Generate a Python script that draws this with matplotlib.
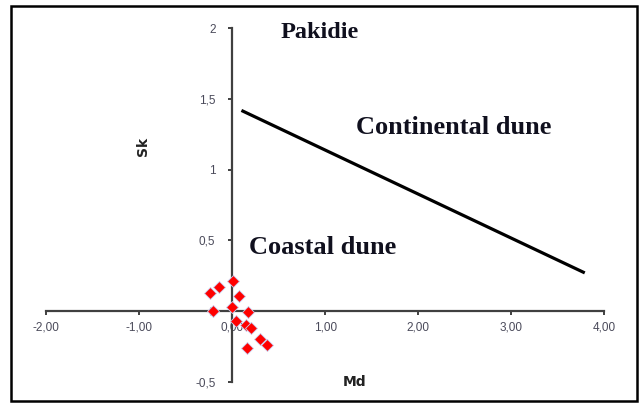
import matplotlib.pyplot as plt
from matplotlib.patches import Rectangle

# Md / Sk values of the samples
md = [-0.24, -0.14, 0.01, 0.07, 0.00, -0.21, 0.17, 0.04, 0.15, 0.20, 0.30, 0.38, 0.16]
sk = [0.13, 0.17, 0.21, 0.11, 0.03, 0.00, -0.01, -0.07, -0.10, -0.12, -0.20, -0.24, -0.26]

# boundary between coastal and continental dunes
line_md = [0.10, 3.79]
line_sk = [1.42, 0.27]

xticks = [-2, -1, 0, 1, 2, 3, 4]
xticklabels = ['-2,00', '-1,00', '0,00', '1,00', '2,00', '3,00', '4,00']
yticks = [-0.5, 0, 0.5, 1, 1.5, 2]
yticklabels = ['-0,5', '0', '0,5', '1', '1,5', '2']

fig = plt.figure(figsize=(6.42, 4.03), dpi=100)
ax = fig.add_axes([0.0717, 0.0529, 0.8696, 0.8764])
ax.set_xlim(-2, 4)
ax.set_ylim(-0.5, 2)

axcol = '#404040'
for s in ['top', 'right']:
    ax.spines[s].set_visible(False)
for s in ['left', 'bottom']:
    ax.spines[s].set_position(('data', 0))
    ax.spines[s].set_color(axcol)
    ax.spines[s].set_linewidth(1.6)

ax.set_xticks(xticks)
ax.set_xticklabels(xticklabels)
ax.set_yticks(yticks)
ax.set_yticklabels(yticklabels)
ax.tick_params(axis='x', direction='out', length=3, width=1.4, color=axcol,
               pad=4.5, labelsize=8.5, labelcolor='#4a4a5a')
ax.tick_params(axis='y', direction='out', length=3, width=1.4, color=axcol,
               pad=9, labelsize=8.5, labelcolor='#4a4a5a')
for lab in ax.get_xticklabels() + ax.get_yticklabels():
    lab.set_family('Liberation Sans')

ax.set_xlabel('Md', fontsize=10, fontweight='bold', color='#222222')
ax.set_ylabel('Sk', fontsize=10, fontweight='bold', color='#222222')
ax.xaxis.set_label_coords(0.553, 0.019)
ax.yaxis.set_label_coords(0.186, 0.665)

ax.plot(line_md, line_sk, color='black', lw=2.3, solid_capstyle='butt')
ax.plot(md, sk, linestyle='none', marker='D', markersize=6.5,
        markerfacecolor='#ff0000', markeredgecolor='#c8d0f0',
        markeredgewidth=0.6, clip_on=False, zorder=4)

serif = dict(family='Liberation Serif', fontweight='bold', color='#10101e',
             ha='center', va='center')
ax.text(0.945, 1.97, 'Pakidie', fontsize=17.5, **serif)
ax.text(2.38, 1.30, 'Continental dune', fontsize=19, **serif)
ax.text(0.975, 0.45, 'Coastal dune', fontsize=19, **serif)

fig.patches.append(Rectangle((0.0171, 0.006), 0.975, 0.979, transform=fig.transFigure,
                             fill=False, edgecolor='black', linewidth=1.8))

fig.savefig('out.png', dpi=100)
